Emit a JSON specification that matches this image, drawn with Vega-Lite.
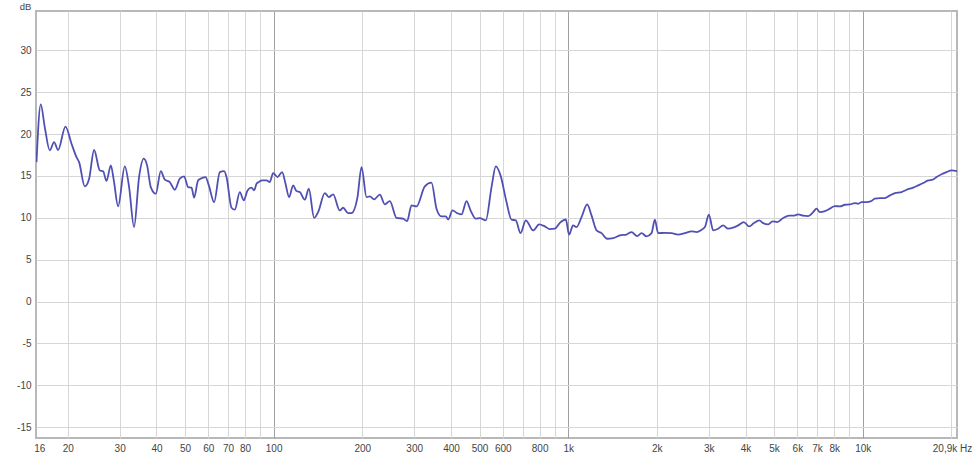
{
  "$schema": "https://vega.github.io/schema/vega-lite/v6.json",
  "width": 921,
  "height": 427,
  "autosize": {"type": "none"},
  "padding": {"left": 36, "top": 11, "right": 18, "bottom": 18},
  "background": "#ffffff",
  "config": {
    "view": {"stroke": "#b8b8b8", "strokeWidth": 2},
    "axis": {"labelFont": "Liberation Sans", "labelFontSize": 10, "labelColor": "#444444", "titleFont": "Liberation Sans", "titleFontSize": 9.5, "titleColor": "#444444", "titleFontWeight": "normal"}
  },
  "data": {"values": [
    {"f": 15.66, "db": 16.65}, {"f": 16.19, "db": 23.55}, {"f": 16.71, "db": 20.8}, {"f": 17.37, "db": 18.05},
    {"f": 17.97, "db": 19.05}, {"f": 18.54, "db": 18.1}, {"f": 19.64, "db": 20.9}, {"f": 20.59, "db": 18.85},
    {"f": 21.41, "db": 17.25}, {"f": 21.85, "db": 16.65}, {"f": 22.84, "db": 13.75}, {"f": 23.63, "db": 14.67},
    {"f": 24.57, "db": 18.1}, {"f": 25.69, "db": 15.66}, {"f": 26.36, "db": 15.55}, {"f": 27.07, "db": 14.4},
    {"f": 28.0, "db": 16.26}, {"f": 28.66, "db": 14.47}, {"f": 29.64, "db": 11.36}, {"f": 31.23, "db": 16.14},
    {"f": 32.3, "db": 13.67}, {"f": 33.58, "db": 8.9}, {"f": 34.92, "db": 14.87}, {"f": 36.23, "db": 17.06},
    {"f": 37.18, "db": 16.26}, {"f": 38.27, "db": 13.67}, {"f": 39.8, "db": 12.88}, {"f": 41.38, "db": 15.58},
    {"f": 42.7, "db": 14.55}, {"f": 44.4, "db": 14.27}, {"f": 46.17, "db": 13.35}, {"f": 48.02, "db": 14.67},
    {"f": 49.66, "db": 14.95}, {"f": 51.24, "db": 13.67}, {"f": 52.62, "db": 13.6}, {"f": 53.7, "db": 12.4},
    {"f": 55.4, "db": 14.47}, {"f": 57.16, "db": 14.75}, {"f": 58.7, "db": 14.87}, {"f": 60.24, "db": 13.87},
    {"f": 62.78, "db": 11.88}, {"f": 65.65, "db": 15.46}, {"f": 67.89, "db": 15.58}, {"f": 69.18, "db": 14.87},
    {"f": 71.93, "db": 11.2}, {"f": 73.81, "db": 10.97}, {"f": 76.75, "db": 13.07}, {"f": 79.19, "db": 12.08},
    {"f": 81.52, "db": 13.27}, {"f": 84.11, "db": 13.6}, {"f": 85.84, "db": 13.27}, {"f": 87.46, "db": 14.07},
    {"f": 89.05, "db": 14.27}, {"f": 91.38, "db": 14.47}, {"f": 94.58, "db": 14.47}, {"f": 97.05, "db": 14.27},
    {"f": 99.59, "db": 15.34}, {"f": 103.07, "db": 14.87}, {"f": 106.85, "db": 15.46}, {"f": 109.72, "db": 14.07},
    {"f": 112.85, "db": 12.47}, {"f": 116.43, "db": 13.87}, {"f": 119.57, "db": 13.19}, {"f": 122.7, "db": 13.07},
    {"f": 127.59, "db": 12.16}, {"f": 131.65, "db": 13.47}, {"f": 137.2, "db": 10.0}, {"f": 141.6, "db": 10.68},
    {"f": 149.2, "db": 12.95}, {"f": 153.9, "db": 12.47}, {"f": 159.2, "db": 12.8}, {"f": 167.7, "db": 10.88},
    {"f": 172.1, "db": 11.2}, {"f": 179.0, "db": 10.56}, {"f": 183.8, "db": 10.56}, {"f": 192.6, "db": 12.47},
    {"f": 198.8, "db": 16.06}, {"f": 206.7, "db": 12.47}, {"f": 212.1, "db": 12.56}, {"f": 219.3, "db": 12.2},
    {"f": 229.3, "db": 12.76}, {"f": 238.5, "db": 11.6}, {"f": 248.0, "db": 12.0}, {"f": 261.3, "db": 10.0},
    {"f": 275.1, "db": 9.89}, {"f": 283.9, "db": 9.6}, {"f": 293.8, "db": 11.48}, {"f": 305.5, "db": 11.36},
    {"f": 326.0, "db": 13.75}, {"f": 343.5, "db": 14.2}, {"f": 357.2, "db": 11.09}, {"f": 371.5, "db": 10.17},
    {"f": 384.2, "db": 10.17}, {"f": 391.2, "db": 9.8}, {"f": 404.9, "db": 10.88}, {"f": 419.7, "db": 10.56},
    {"f": 434.4, "db": 10.4}, {"f": 451.7, "db": 12.0}, {"f": 466.1, "db": 10.88}, {"f": 485.8, "db": 9.89},
    {"f": 501.2, "db": 9.97}, {"f": 525.3, "db": 9.7}, {"f": 549.2, "db": 13.67}, {"f": 568.0, "db": 16.14},
    {"f": 589.2, "db": 15.07}, {"f": 617.5, "db": 11.88}, {"f": 642.1, "db": 9.77}, {"f": 664.0, "db": 9.7},
    {"f": 688.9, "db": 8.17}, {"f": 718.1, "db": 9.7}, {"f": 760.4, "db": 8.5}, {"f": 796.9, "db": 9.21},
    {"f": 833.2, "db": 8.97}, {"f": 866.4, "db": 8.65}, {"f": 901.0, "db": 8.7}, {"f": 937.0, "db": 9.4},
    {"f": 981.8, "db": 9.8}, {"f": 1007, "db": 8.0}, {"f": 1039, "db": 9.09}, {"f": 1067, "db": 8.89},
    {"f": 1110, "db": 10.09}, {"f": 1160, "db": 11.6}, {"f": 1200, "db": 10.29}, {"f": 1248, "db": 8.5},
    {"f": 1298, "db": 8.17}, {"f": 1356, "db": 7.5}, {"f": 1421, "db": 7.57}, {"f": 1498, "db": 7.9},
    {"f": 1578, "db": 8.0}, {"f": 1641, "db": 8.29}, {"f": 1715, "db": 7.82}, {"f": 1775, "db": 8.17},
    {"f": 1845, "db": 7.78}, {"f": 1919, "db": 8.17}, {"f": 1969, "db": 9.77}, {"f": 2020, "db": 8.17},
    {"f": 2129, "db": 8.2}, {"f": 2243, "db": 8.17}, {"f": 2362, "db": 8.0}, {"f": 2490, "db": 8.17},
    {"f": 2624, "db": 8.38}, {"f": 2729, "db": 8.29}, {"f": 2838, "db": 8.58}, {"f": 2912, "db": 8.89},
    {"f": 3004, "db": 10.37}, {"f": 3107, "db": 8.5}, {"f": 3230, "db": 8.7}, {"f": 3358, "db": 9.09},
    {"f": 3492, "db": 8.7}, {"f": 3631, "db": 8.82}, {"f": 3776, "db": 9.09}, {"f": 3948, "db": 9.49},
    {"f": 4116, "db": 8.97}, {"f": 4271, "db": 9.37}, {"f": 4452, "db": 9.7}, {"f": 4593, "db": 9.37},
    {"f": 4776, "db": 9.21}, {"f": 4943, "db": 9.57}, {"f": 5124, "db": 9.49}, {"f": 5370, "db": 9.97},
    {"f": 5628, "db": 10.25}, {"f": 5808, "db": 10.25}, {"f": 6040, "db": 10.4}, {"f": 6278, "db": 10.25},
    {"f": 6528, "db": 10.2}, {"f": 6789, "db": 10.68}, {"f": 6973, "db": 11.09}, {"f": 7155, "db": 10.68},
    {"f": 7440, "db": 10.8}, {"f": 7737, "db": 11.09}, {"f": 8045, "db": 11.4}, {"f": 8366, "db": 11.36},
    {"f": 8699, "db": 11.56}, {"f": 9046, "db": 11.6}, {"f": 9406, "db": 11.76}, {"f": 9652, "db": 11.68},
    {"f": 9912, "db": 11.88}, {"f": 10307, "db": 11.88}, {"f": 10635, "db": 11.96}, {"f": 10998, "db": 12.28},
    {"f": 11438, "db": 12.35}, {"f": 11894, "db": 12.35}, {"f": 12368, "db": 12.68}, {"f": 12862, "db": 12.95},
    {"f": 13553, "db": 13.07}, {"f": 14094, "db": 13.35}, {"f": 14840, "db": 13.6}, {"f": 15432, "db": 13.87},
    {"f": 16048, "db": 14.15}, {"f": 16689, "db": 14.47}, {"f": 17272, "db": 14.55}, {"f": 17815, "db": 14.87},
    {"f": 18526, "db": 15.2}, {"f": 19266, "db": 15.46}, {"f": 20031, "db": 15.66}, {"f": 20900, "db": 15.58}
  ]},
  "mark": {"type": "line", "interpolate": "monotone", "color": "#5050b4", "strokeWidth": 1.8, "clip": true},
  "encoding": {
    "x": {
      "field": "f", "type": "quantitative",
      "scale": {"type": "log", "domain": [15.6, 20900], "nice": false},
      "axis": {
        "title": null, "ticks": false, "domain": false,
        "values": [16, 20, 30, 40, 50, 60, 70, 80, 90, 100, 200, 300, 400, 500, 600, 700, 800, 900, 1000, 2000, 3000, 4000, 5000, 6000, 7000, 8000, 9000, 10000, 20000, 20900],
        "labelExpr": "datum.value == 20900 ? '20,9k Hz' : (datum.value == 90 || datum.value == 700 || datum.value == 900 || datum.value == 9000 || datum.value == 20000) ? '' : datum.value >= 1000 ? (datum.value / 1000) + 'k' : '' + datum.value",
        "labelOverlap": false, "labelBound": false, "labelFlush": false,
        "labelPadding": 5, "labelBaseline": "top",
        "labelOffset": {"condition": {"test": "datum.value == 20900", "value": -5}, "value": 0},
        "grid": true,
        "gridColor": {"condition": {"test": "datum.value == 100 || datum.value == 1000 || datum.value == 10000", "value": "#a0a0a0"}, "value": "#d6d6d6"},
        "gridOpacity": {"condition": {"test": "datum.value == 16 || datum.value == 20900", "value": 0}, "value": 1},
        "gridWidth": 1
      }
    },
    "y": {
      "field": "db", "type": "quantitative",
      "scale": {"domain": [-16.3, 34.7], "nice": false, "zero": false},
      "axis": {
        "title": "dB", "titleAngle": 0, "titleX": -11, "titleY": -5, "titleAlign": "center", "titleBaseline": "middle",
        "ticks": false, "domain": false,
        "values": [-15, -10, -5, 0, 5, 10, 15, 20, 25, 30],
        "labelExpr": "'' + datum.value",
        "labelPadding": 5,
        "grid": true, "gridColor": "#d6d6d6", "gridWidth": 1
      }
    }
  }
}
